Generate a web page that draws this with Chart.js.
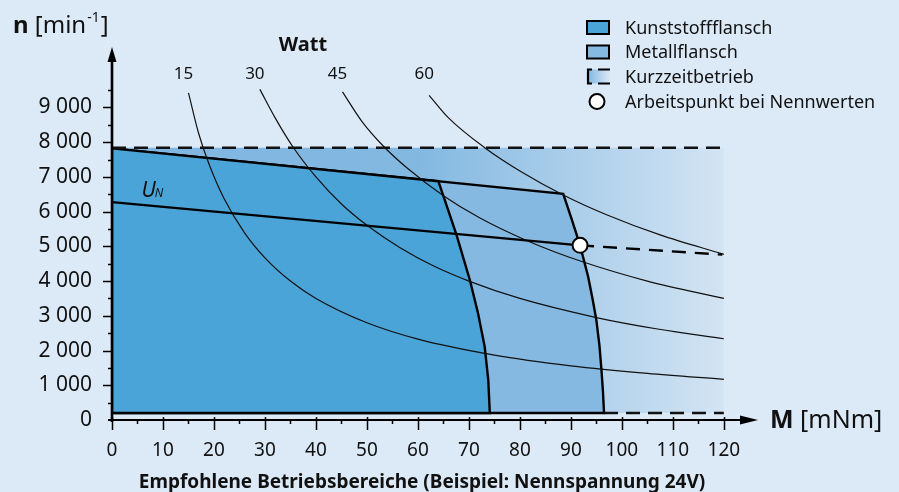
<!DOCTYPE html>
<html>
<head>
<meta charset="utf-8">
<script src="https://cdn.jsdelivr.net/npm/chart.js@4/dist/chart.umd.min.js"></script>
<style>
html, body { margin: 0; padding: 0; background: #dce9f6; }
#wrap { width: 899px; height: 492px; }
</style>
</head>
<body>
<div id="wrap"><canvas id="chart"></canvas></div>
<script>
// axis ticks
const torqueTicks = [0, 10, 20, 30, 40, 50, 60, 70, 80, 90, 100, 110, 120];
const speedTicks = [0, 1000, 2000, 3000, 4000, 5000, 6000, 7000, 8000, 9000];

// operating ranges [M mNm, n min-1]
const kurzzeit = [[0, 200], [0, 7840], [120, 7840], [120, 200]];
const metall = [[0, 200], [0, 7820], [88.5, 6514], [90.2, 5760], [91.8, 5029], [93.4, 4118], [94.3, 3450], [95.0, 2874], [95.6, 2150], [96.0, 1437], [96.3, 800], [96.5, 200], [0, 200]];
const kunststoff = [[0, 200], [0, 7820], [64, 6876], [65.8, 6100], [67.6, 5316], [68.9, 4670], [70.2, 4023], [71.8, 3066], [73.1, 2106], [73.8, 1149], [74.1, 200], [0, 200]];
const topLimit = [[0, 7840], [120, 7840]];
const bottomLimit = [[96.5, 200], [120, 200]];

// speed at nominal voltage
const unSolid = [[0, 6273], [91.8, 5029]];
const unDashed = [[91.8, 5029], [119.7, 4761]];
const workPoint = [[91.8, 5029]];

// power curves (Watt)
const wattLabels = ['15', '30', '45', '60'];
const watt15 = [[15, 9420], [17, 8250], [19, 7380], [22, 6370], [26, 5390], [30, 4670], [35, 4000], [40, 3500], [50, 2800], [60, 2330], [75, 1870], [90, 1560], [105, 1340], [120, 1170]];
const watt30 = [[29, 9520], [32, 8700], [35.5, 7860], [40, 7000], [45, 6220], [50.6, 5540], [56.5, 4960], [63, 4440], [70, 4000], [80, 3500], [95, 2950], [107, 2620], [120, 2340]];
const watt45 = [[45.2, 9450], [49, 8600], [53.2, 7890], [58, 7240], [65, 6460], [72, 5830], [81.3, 5170], [92, 4570], [105, 4000], [120, 3500]];
const watt60 = [[62.2, 9350], [66, 8700], [73.1, 7840], [80, 7170], [88.5, 6480], [97, 5910], [107.5, 5330], [120, 4770]];

const pts = a => a.map(p => ({ x: p[0], y: p[1] }));
const fontFam = '"Noto Sans", "Open Sans", sans-serif';

function kurzzeitFill(c) {
  const chart = c.chart;
  if (!chart.chartArea) return '#85b9e2';
  const xs = chart.scales.x;
  const g = chart.ctx.createLinearGradient(xs.getPixelForValue(0), 0, xs.getPixelForValue(120), 0);
  g.addColorStop(0, '#80b6e0');
  g.addColorStop(0.5, '#83b8e1');
  g.addColorStop(1, '#d3e4f3');
  return g;
}

const curve = (data, order) => ({
  data: pts(data), borderColor: '#111', borderWidth: 1.2, pointRadius: 0,
  cubicInterpolationMode: 'monotone', fill: false, order: order
});

const decor = {
  id: 'decor',
  afterDatasetsDraw(chart) {
    const { ctx, chartArea, scales: { x, y } } = chart;
    const x0 = x.getPixelForValue(0), y0 = y.getPixelForValue(0);
    ctx.save();
    ctx.strokeStyle = '#000';
    ctx.fillStyle = '#000';
    // x axis + ticks
    ctx.lineWidth = 2;
    ctx.beginPath(); ctx.moveTo(x0 - 4, y0); ctx.lineTo(chartArea.right - 12, y0); ctx.stroke();
    ctx.beginPath();
    ctx.moveTo(chartArea.right, y0); ctx.lineTo(chartArea.right - 18, y0 - 4.5); ctx.lineTo(chartArea.right - 18, y0 + 4.5);
    ctx.closePath(); ctx.fill();
    ctx.lineWidth = 1.5;
    for (let v = 0; v <= 120; v += 5) {
      const px = Math.round(x.getPixelForValue(v)) + 0.5;
      ctx.beginPath();
      if (v % 10 === 0) { ctx.moveTo(px, y0 - 3); ctx.lineTo(px, y0 + 10); }
      else { ctx.moveTo(px, y0); ctx.lineTo(px, y0 + 4); }
      ctx.stroke();
    }
    // y axis + ticks
    for (let v = 500; v <= 9500; v += 500) {
      const py = Math.round(y.getPixelForValue(v)) + 0.5;
      ctx.beginPath();
      if (v % 1000 === 0) { ctx.moveTo(x0 - 9, py); ctx.lineTo(x0, py); }
      else { ctx.moveTo(x0 - 4, py); ctx.lineTo(x0, py); }
      ctx.stroke();
    }
    ctx.lineWidth = 2.6;
    ctx.beginPath(); ctx.moveTo(x0, y0 + 2); ctx.lineTo(x0, chartArea.top + 12); ctx.stroke();
    ctx.beginPath();
    ctx.moveTo(x0, chartArea.top); ctx.lineTo(x0 - 4.5, chartArea.top + 15); ctx.lineTo(x0 + 4.5, chartArea.top + 15);
    ctx.closePath(); ctx.fill();
    ctx.restore();
  },
  afterDraw(chart) {
    const { ctx, scales: { x, y } } = chart;
    ctx.save();
    ctx.fillStyle = '#111';
    ctx.textBaseline = 'alphabetic';

    // y title: n [min-1]
    let tx = 13;
    ctx.textAlign = 'left';
    ctx.font = 'bold 24px ' + fontFam;
    ctx.fillText('n', tx, 33); tx += ctx.measureText('n ').width;
    ctx.font = '24px ' + fontFam;
    ctx.fillText('[min', tx, 33); tx += ctx.measureText('[min').width + 1;
    ctx.font = '14px ' + fontFam;
    ctx.fillText('-1', tx, 22); tx += ctx.measureText('-1').width + 1;
    ctx.font = '24px ' + fontFam;
    ctx.fillText(']', tx, 33);

    // x title: M [mNm]
    tx = 770;
    ctx.font = 'bold 25px ' + fontFam;
    ctx.fillText('M', tx, 428); tx += ctx.measureText('M ').width;
    ctx.font = '25px ' + fontFam;
    ctx.fillText('[mNm]', tx, 428);

    // bottom caption
    ctx.textAlign = 'center';
    ctx.font = 'bold 19px ' + fontFam;
    ctx.fillText('Empfohlene Betriebsbereiche (Beispiel: Nennspannung 24V)', 422, 488);

    // Watt labels
    ctx.font = 'bold 20px ' + fontFam;
    ctx.fillText('Watt', 303, 51);
    ctx.font = '17px ' + fontFam;
    [watt15, watt30, watt45, watt60].forEach((c, i) => {
      ctx.fillText(wattLabels[i], x.getPixelForValue(c[0][0]) - 5, 79);
    });

    // U_N label
    ctx.textAlign = 'left';
    const ux = x.getPixelForValue(5.8), uy = y.getPixelForValue(6430);
    ctx.font = 'italic 21px ' + fontFam;
    ctx.fillText('U', ux, uy);
    const uw = ctx.measureText('U').width;
    ctx.font = 'italic 12px ' + fontFam;
    ctx.fillText('N', ux + uw - 1, uy);

    // legend
    const lx = 587, tX = 625;
    const rows = [27.5, 52, 76.5, 101.5];
    ctx.lineWidth = 2;
    ctx.strokeStyle = '#000';
    ctx.fillStyle = '#4aa4d8';
    ctx.fillRect(lx, rows[0] - 6.5, 22, 13); ctx.strokeRect(lx, rows[0] - 6.5, 22, 13);
    ctx.fillStyle = '#85b9e2';
    ctx.fillRect(lx, rows[1] - 6.5, 22, 13); ctx.strokeRect(lx, rows[1] - 6.5, 22, 13);
    const g = ctx.createLinearGradient(lx, 0, lx + 23, 0);
    g.addColorStop(0, '#7fb5e0'); g.addColorStop(1, '#dce9f6');
    ctx.fillStyle = g;
    ctx.fillRect(lx, rows[2] - 7, 23, 14);
    ctx.lineWidth = 2.2;
    ctx.beginPath();
    ctx.moveTo(lx + 5, rows[2] - 7); ctx.lineTo(lx + 1, rows[2] - 7); ctx.lineTo(lx + 1, rows[2] + 7); ctx.lineTo(lx + 5, rows[2] + 7);
    ctx.moveTo(lx + 11, rows[2] - 7); ctx.lineTo(lx + 23, rows[2] - 7);
    ctx.moveTo(lx + 11, rows[2] + 7); ctx.lineTo(lx + 23, rows[2] + 7);
    ctx.stroke();
    ctx.lineWidth = 2;
    ctx.fillStyle = '#fff';
    ctx.beginPath(); ctx.arc(lx + 10, rows[3], 7.5, 0, Math.PI * 2); ctx.fill(); ctx.stroke();
    ctx.fillStyle = '#111';
    ctx.font = '18px ' + fontFam;
    ctx.textBaseline = 'middle';
    ['Kunststoffflansch', 'Metallflansch', 'Kurzzeitbetrieb', 'Arbeitspunkt bei Nennwerten'].forEach((t, i) => {
      ctx.fillText(t, tX, rows[i] + 1);
    });
    ctx.restore();
  }
};

new Chart(document.getElementById('chart'), {
  type: 'line',
  data: {
    datasets: [
      { data: pts(kurzzeit), fill: 'shape', backgroundColor: kurzzeitFill, borderWidth: 0, borderColor: 'rgba(0,0,0,0)', pointRadius: 0, tension: 0, order: 10 },
      { data: pts(metall), fill: 'shape', backgroundColor: '#85b9e2', borderColor: '#000', borderWidth: 2.4, pointRadius: 0, tension: 0, order: 9 },
      { data: pts(kunststoff), fill: 'shape', backgroundColor: '#4aa4d8', borderColor: '#000', borderWidth: 2.4, pointRadius: 0, tension: 0, order: 8 },
      curve(watt15, 6), curve(watt30, 6), curve(watt45, 6), curve(watt60, 6),
      { data: pts(topLimit), borderColor: '#111', borderWidth: 2.4, borderDash: [14, 8], pointRadius: 0, fill: false, order: 5 },
      { data: pts(bottomLimit), borderColor: '#111', borderWidth: 2.4, borderDash: [14, 8], pointRadius: 0, fill: false, order: 5 },
      { data: pts(unSolid), borderColor: '#000', borderWidth: 2.4, pointRadius: 0, fill: false, order: 4 },
      { data: pts(unDashed), borderColor: '#000', borderWidth: 2.4, borderDash: [14, 9], pointRadius: 0, fill: false, order: 4 },
      { data: pts(workPoint), showLine: false, pointRadius: 7.5, pointBackgroundColor: '#fff', pointBorderColor: '#000', pointBorderWidth: 2, order: 1 }
    ]
  },
  options: {
    responsive: true,
    maintainAspectRatio: false,
    animation: false,
    layout: { padding: { top: 47, right: 141, left: 0, bottom: 0 } },
    plugins: { legend: { display: false }, tooltip: { enabled: false } },
    scales: {
      x: {
        type: 'linear', min: 0, max: 126.7,
        afterFit: s => { s.height = 72; },
        afterBuildTicks: s => { s.ticks = torqueTicks.map(v => ({ value: v })); },
        grid: { display: false, drawTicks: false },
        border: { display: false },
        ticks: { padding: 19, color: '#111', font: { family: fontFam, size: 19 } }
      },
      y: {
        type: 'linear', min: 0, max: 10740,
        afterFit: s => { s.width = 112; },
        afterBuildTicks: s => { s.ticks = speedTicks.map(v => ({ value: v })); },
        grid: { display: false, drawTicks: false },
        border: { display: false },
        ticks: {
          padding: 20, color: '#111', font: { family: fontFam, size: 21 },
          callback: v => String(v).replace(/\B(?=(\d{3})+(?!\d))/g, ' ')
        }
      }
    }
  },
  plugins: [decor]
});
</script>
</body>
</html>
